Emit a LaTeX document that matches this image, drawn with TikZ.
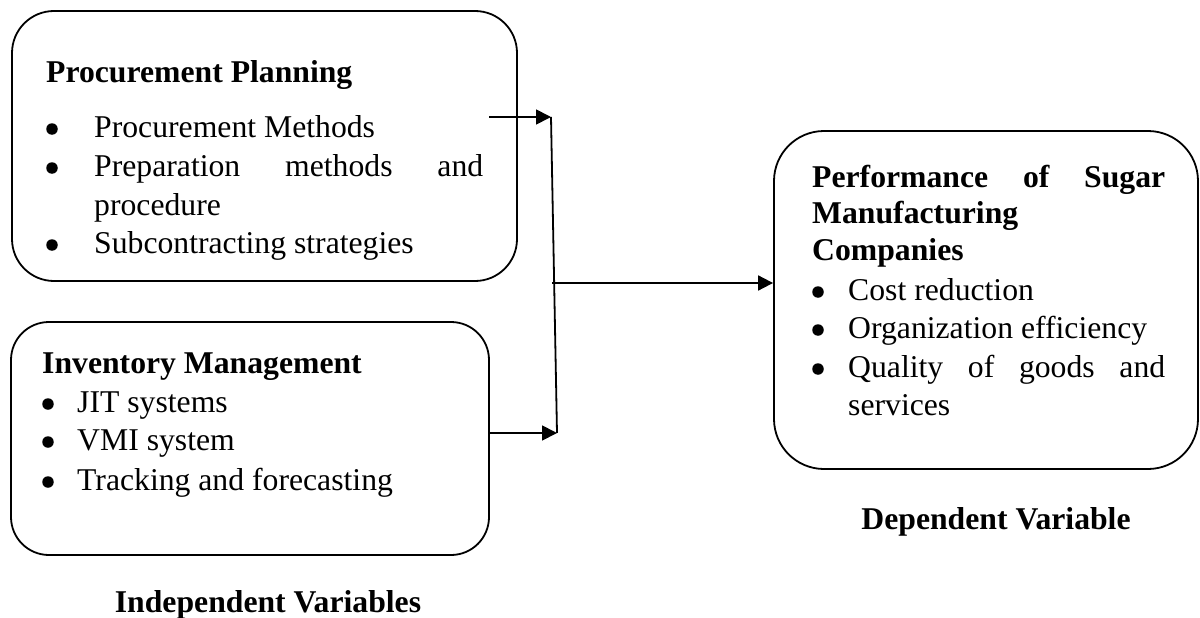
\documentclass[tikz,border=0pt]{standalone}
\usepackage{fontspec}
\setmainfont{Liberation Serif}
\usetikzlibrary{arrows.meta}
\begin{document}
\begin{tikzpicture}[x=1pt,y=-1pt,
  txt/.style={font=\fontsize{31.7}{38}\selectfont, inner sep=0pt, anchor=base west},
  head/.style={txt, font=\fontsize{31.7}{38}\selectfont\bfseries},
  dot/.style={circle, fill, inner sep=0pt, minimum size=11.5pt, yshift=8pt},
  panel/.style={draw, line width=1.8pt, rounded corners=#1, inner sep=0pt},
  link/.style={line width=1.8pt},
  arr/.style={link, -{Triangle[length=15pt,width=15pt]}}]
\useasboundingbox (0,0) rectangle (1200,618);

% the three panels
\node[panel=42pt, minimum width=505pt, minimum height=270pt] (pp) at (264.5,146) {};
\node[panel=38pt, minimum width=478pt, minimum height=233pt] (im) at (250,438.5) {};
\node[panel=50pt, minimum width=424pt, minimum height=338pt] (perf) at (986,300) {};

% procurement planning
\node[head] (pp-t) at (46,82) {Procurement Planning};
\node[dot] (pp-b1) at (52,137) {};
\node[txt] (pp-1) at (94,137) {Procurement Methods};
\node[dot] (pp-b2) at (52,176) {};
\node[txt] (pp-2) at (94,176) {\makebox[389pt][s]{Preparation methods and}};
\node[txt] (pp-2b) at (94,215) {procedure};
\node[dot] (pp-b3) at (52,253) {};
\node[txt] (pp-3) at (94,253) {Subcontracting strategies};

% inventory management
\node[head] (im-t) at (42,373) {Inventory Management};
\node[dot] (im-b1) at (48,412) {};
\node[txt] (im-1) at (77,412) {JIT systems};
\node[dot] (im-b2) at (48,450) {};
\node[txt] (im-2) at (77,450) {VMI system};
\node[dot] (im-b3) at (48,490) {};
\node[txt] (im-3) at (77,490) {Tracking and forecasting};

% performance
\node[head] (perf-t1) at (812,187) {\makebox[353pt][s]{Performance of Sugar}};
\node[head] (perf-t2) at (812,223) {Manufacturing};
\node[head] (perf-t3) at (812,260) {Companies};
\node[dot] (perf-b1) at (818,300) {};
\node[txt] (perf-1) at (848,300) {Cost reduction};
\node[dot] (perf-b2) at (818,338) {};
\node[txt] (perf-2) at (848,338) {Organization efficiency};
\node[dot] (perf-b3) at (818,377) {};
\node[txt] (perf-3) at (848,377) {\makebox[317pt][s]{Quality of goods and}};
\node[txt] (perf-3b) at (848,415) {services};

% captions
\node[head, anchor=base] (cap-ind) at (268,612) {Independent Variables};
\node[head, anchor=base] (cap-dep) at (996,529) {Dependent Variable};

% connectors
\coordinate (pp-out) at (489,117);
\coordinate (im-out) at (489,433);
\coordinate (j-top) at (551,117);
\coordinate (j-bot) at (557,433);
\coordinate (j-mid) at (552,283);
\draw[link] (j-top) -- (j-bot);
\draw[arr] (pp-out) -- (j-top);
\draw[arr] (im-out) -- (j-bot);
\draw[arr] (j-mid) -- (j-mid -| perf.west);
\end{tikzpicture}
\end{document}
